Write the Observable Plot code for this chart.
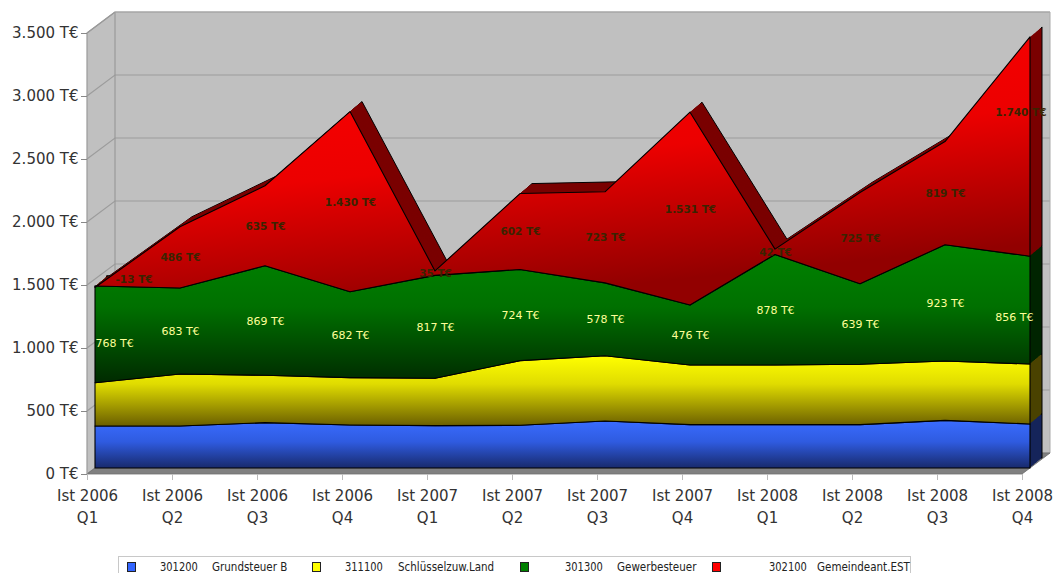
<!DOCTYPE html>
<html>
<head>
<meta charset="utf-8">
<script src="https://cdn.jsdelivr.net/npm/d3@7"></script>
<script src="https://cdn.jsdelivr.net/npm/@observablehq/plot@0.6"></script>
<style>
  html, body { margin: 0; padding: 0; background: #ffffff; }
  #chart { position: relative; width: 1053px; height: 573px; overflow: hidden; font-family: "DejaVu Sans", Verdana, sans-serif; }
  #chart svg { display: block; }
  .legend { position: absolute; left: 118px; top: 556px; width: 793px; height: 22px; border: 1px solid #c8c8c8; box-sizing: border-box; background: #fff;
            font-family: "Liberation Sans Narrow", "DejaVu Sans Condensed", "Liberation Sans", sans-serif; font-stretch: condensed; font-size: 12.5px; color: #222; }
  .legend .sw { position: absolute; top: 5px; width: 7px; height: 8px; border: 1px solid #222; }
  .legend .tx { position: absolute; top: 3px; white-space: pre; line-height: 14px; transform-origin: 0 50%; }
  .legend .code { transform: scaleX(0.88); }
  .legend .name { transform: scaleX(0.92); }
</style>
</head>
<body>
<div id="chart"></div>
<script>
// ---------- data ----------
const categories = ["Ist 2006 Q1","Ist 2006 Q2","Ist 2006 Q3","Ist 2006 Q4",
                    "Ist 2007 Q1","Ist 2007 Q2","Ist 2007 Q3","Ist 2007 Q4",
                    "Ist 2008 Q1","Ist 2008 Q2","Ist 2008 Q3","Ist 2008 Q4"];
const seriesCodes = ["301200", "311100", "301300", "302100"];
const seriesNames = ["Grundsteuer B", "Schlüsselzuw.Land", "Gewerbesteuer", "Gemeindeant.EST"];
const grundsteuerB   = [333, 333, 360, 341, 336, 339, 373, 344, 344, 344, 378, 349];
const schluesselzuw  = [344, 413, 376, 376, 376, 513, 518, 473, 473, 479, 471, 476];
const gewerbesteuer  = [768, 683, 869, 682, 817, 724, 578, 476, 878, 639, 923, 856];
const gemeindeantEST = [-13, 486, 635, 1430, 35, 602, 723, 1531, 42, 725, 819, 1740];
const yTicks = [0, 500, 1000, 1500, 2000, 2500, 3000, 3500];

// ---------- styling ----------
const series = [
  {key: "blue",   values: grundsteuerB,   side: "#15245a", stops: [["0%","#3a6cff"],["45%","#2f5be0"],["100%","#182a6c"]], sw: "#3366ff"},
  {key: "yellow", values: schluesselzuw,  side: "#4a4200", stops: [["0%","#ffff00"],["40%","#e0dc00"],["100%","#6a5e00"]], sw: "#ffff00"},
  {key: "green",  values: gewerbesteuer,  side: "#002400", stops: [["0%","#008400"],["45%","#007000"],["100%","#002a00"]], sw: "#008000"},
  {key: "red",    values: gemeindeantEST, side: "#7a0000", stops: [["0%","#ff0000"],["55%","#ec0000"],["100%","#920000"]], sw: "#ff0000"}
];

const de = d3.formatLocale({decimal: ",", thousands: ".", grouping: [3], currency: ["", "€"], minus: "-"});
const fmt = de.format(",.0f");

// stacked table (manual stacking so the negative value stays on top of the stack)
const rows = [];
categories.forEach((cat, i) => {
  let acc = 0;
  for (const s of series) {
    const v = s.values[i];
    rows.push({cat, i, key: s.key, value: v, y1: acc, y2: acc + v});
    acc += v;
  }
});

// 3D geometry (pixels)
const FX = 8, FY = -6;          // front face of the data slab relative to axis plane
const DEPTH = 12, DSLOPE = 10 / 12; // slab depth
const WX = 28, WY = -21;        // back wall offset

function walls(index, scales) {
  const xs = scales.x, ys = scales.y;
  const xa = xs(categories[0]), xb = xs(categories[categories.length - 1]);
  const y0 = ys(0), yT = ys(yTicks[yTicks.length - 1]);
  const g = d3.create("svg:g");
  g.append("path")
    .attr("d", `M${xa},${y0}L${xa},${yT}L${xa + WX},${yT + WY}L${xb + WX},${yT + WY}L${xb + WX},${y0 + WY}L${xb},${y0}Z`)
    .attr("fill", "#c0c0c0");
  for (const t of yTicks) {
    const y = ys(t);
    g.append("path").attr("d", `M${xa},${y}L${xa + WX},${y + WY}L${xb + WX},${y + WY}`)
      .attr("fill", "none").attr("stroke", "#9c9c9c").attr("stroke-width", 1.2);
  }
  g.append("path").attr("d", `M${xa + WX},${yT + WY}L${xa + WX},${y0 + WY}`)
    .attr("stroke", "#999").attr("stroke-width", 1.2);
  g.append("path").attr("d", `M${xa + WX},${yT + WY}L${xb + WX},${yT + WY}L${xb + WX},${y0 + WY}`)
    .attr("fill", "none").attr("stroke", "#aaa").attr("stroke-width", 1);
  g.append("path")
    .attr("d", `M${xa},${y0}L${xa + WX},${y0 + WY}L${xb + WX},${y0 + WY}L${xb},${y0}Z`)
    .attr("fill", "#808080").attr("stroke", "#707070").attr("stroke-width", 0.8);
  g.append("path").attr("d", `M${xa},${y0}L${xa},${yT}L${xa + WX},${yT + WY}`)
    .attr("fill", "none").attr("stroke", "#9a9a9a").attr("stroke-width", 1.2);
  return g.node();
}

const marks = [walls];

// extrusion layers, back to front
for (let k = DEPTH; k >= 1; --k) {
  for (const s of series) {
    marks.push(Plot.areaY(rows.filter(r => r.key === s.key), {
      x: "cat", y1: "y1", y2: "y2", curve: "linear",
      fill: s.side,
      stroke: k === DEPTH ? "#000" : "none", strokeWidth: 1,
      dx: FX + k, dy: FY - k * DSLOPE
    }));
  }
}
// front faces
for (const s of series) {
  marks.push(Plot.areaY(rows.filter(r => r.key === s.key), {
    x: "cat", y1: "y1", y2: "y2", curve: "linear",
    fill: `url(#grad-${s.key})`, stroke: "#000", strokeWidth: 1.1,
    dx: FX, dy: FY
  }));
}

// value labels
const mid = r => (r.y1 + r.y2) / 2;
const lbl = r => fmt(r.value) + " T€";
const greenStyle = {fontSize: 11, fontFamily: "DejaVu Sans, Verdana, sans-serif", fill: "#ffff99"};
const redStyle = {fontSize: 10.5, fontWeight: "bold", fontFamily: "DejaVu Sans, Verdana, sans-serif", fill: "#3a2400"};
const last = categories.length - 1;
const green = rows.filter(r => r.key === "green");
const red = rows.filter(r => r.key === "red");
marks.push(
  Plot.text(green.filter(r => r.i > 0 && r.i < last), {x: "cat", y: mid, text: lbl, dx: FX, dy: FY, ...greenStyle}),
  Plot.text(green.filter(r => r.i === 0), {x: "cat", y: mid, text: lbl, textAnchor: "start", dx: FX, dy: FY + 9, ...greenStyle}),
  Plot.text(green.filter(r => r.i === last), {x: "cat", y: mid, text: lbl, textAnchor: "end", dx: FX + 3, dy: FY + 7, ...greenStyle}),
  Plot.text(red.filter(r => r.i > 0 && r.i < last), {x: "cat", y: mid, text: lbl, dx: FX, dy: FY, ...redStyle}),
  Plot.text(red.filter(r => r.i === 0), {x: "cat", y: mid, text: lbl, textAnchor: "start", dx: FX + 20, dy: FY - 8, ...redStyle}),
  Plot.text(red.filter(r => r.i === last), {x: "cat", y: mid, text: lbl, textAnchor: "end", dx: FX + 16, dy: FY - 34, ...redStyle})
);

// axes
marks.push(
  Plot.axisY({ticks: yTicks, tickFormat: d => fmt(d) + " T€", tickSize: 6, tickPadding: 3, fontSize: 15, stroke: "#888", fill: "#333", label: null}),
  Plot.axisX({tickFormat: d => d.replace(/ (Q\d)$/, "\n$1"), tickSize: 6, tickPadding: 5, fontSize: 15, lineHeight: 1.45, stroke: "#bbb", fill: "#333", label: null})
);

const plot = Plot.plot({
  width: 1053,
  height: 548,
  marginLeft: 87,
  marginRight: 31,
  marginTop: 33,
  marginBottom: 74,
  x: {type: "point", domain: categories, padding: 0, label: null},
  y: {domain: [0, 3500], label: null},
  style: {background: "transparent", fontFamily: "DejaVu Sans, Verdana, sans-serif", color: "#333", overflow: "visible"},
  marks
});

// gradient definitions
const defs = d3.select(plot).insert("defs", ":first-child");
for (const s of series) {
  const lg = defs.append("linearGradient").attr("id", `grad-${s.key}`)
    .attr("x1", 0).attr("y1", 0).attr("x2", s.key === "red" ? 0.35 : 0).attr("y2", 1);
  for (const [o, c] of s.stops) lg.append("stop").attr("offset", o).attr("stop-color", c);
}

const chart = document.getElementById("chart");
chart.appendChild(plot);

// legend
const legend = document.createElement("div");
legend.className = "legend";
const swX = [8, 193, 401, 593];
const codeX = [41, 226, 446, 650];
const nameX = [93, 279, 498, 698];
series.forEach((s, j) => {
  const sw = document.createElement("div");
  sw.className = "sw";
  sw.style.left = swX[j] + "px";
  sw.style.background = s.sw;
  legend.appendChild(sw);
  const code = document.createElement("div");
  code.className = "tx code";
  code.style.left = codeX[j] + "px";
  code.textContent = seriesCodes[j];
  legend.appendChild(code);
  const name = document.createElement("div");
  name.className = "tx name";
  name.style.left = nameX[j] + "px";
  name.textContent = seriesNames[j];
  legend.appendChild(name);
});
chart.appendChild(legend);
</script>
</body>
</html>
